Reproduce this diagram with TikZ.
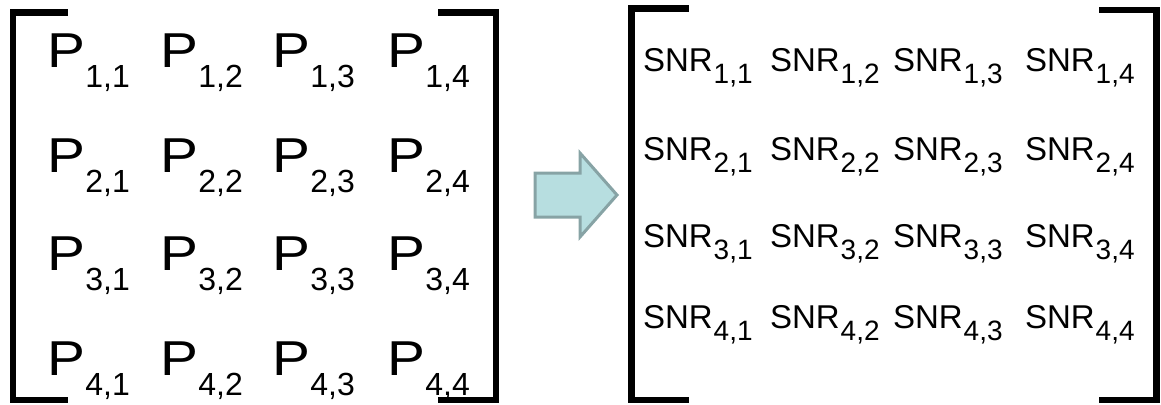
\documentclass[tikz,border=0pt]{standalone}
\usepackage{fontspec}
\setmainfont{Liberation Sans}
\definecolor{arrowfill}{HTML}{B7DEE0}
\definecolor{arrowline}{HTML}{87A3A5}
\newcommand{\Pent}[2]{\scalebox{1.16}[1]{P}\kern0.5pt\raisebox{-20pt}{\fontsize{32}{32}\selectfont #1,#2}}
\newcommand{\Sent}[2]{SNR\kern1pt\raisebox{-12pt}{\fontsize{28}{28}\selectfont #1,#2}}
\tikzset{
  pbig/.style={anchor=base west, inner sep=0pt, outer sep=0pt, font=\fontsize{49}{50}\selectfont},
  psnr/.style={anchor=base west, inner sep=0pt, outer sep=0pt, font=\fontsize{33}{35}\selectfont},
  brk/.style={line width=6.5pt, line cap=rect, line join=miter},
}
\begin{document}
\begin{tikzpicture}[x=1pt,y=-1pt]
\useasboundingbox (0,0) rectangle (1161,404);
% left matrix entries
\foreach \r/\yy in {1/67,2/172,3/270,4/375}{
  \foreach \c/\xx in {1/47,2/160,3/272,4/387}{
    \node[pbig] (p\r\c) at (\xx,\yy) {\Pent{\r}{\c}};
  }
}
% right matrix entries
\foreach \r/\yy in {1/71,2/160,3/247,4/328}{
  \foreach \c/\xx in {1/643,2/770,3/893,4/1025}{
    \node[psnr] (s\r\c) at (\xx,\yy) {\Sent{\r}{\c}};
  }
}
% brackets left matrix
\draw[brk] (65,12.5) -- (13,12.5) -- (13,400) -- (65,400);
\draw[brk] (441,12.5) -- (496,12.5) -- (496,400) -- (441,400);
% brackets right matrix
\draw[brk] (686,8.5) -- (631.5,8.5) -- (631.5,400) -- (686,400);
\draw[brk] (1102,10) -- (1156.5,10) -- (1156.5,400) -- (1102,400);
% arrow
\draw[fill=arrowfill, draw=arrowline, line width=3pt, line join=miter]
  (535,173) -- (580,173) -- (580,153) -- (617,195) -- (580,237) -- (580,217) -- (535,217) -- cycle;
\end{tikzpicture}
\end{document}
